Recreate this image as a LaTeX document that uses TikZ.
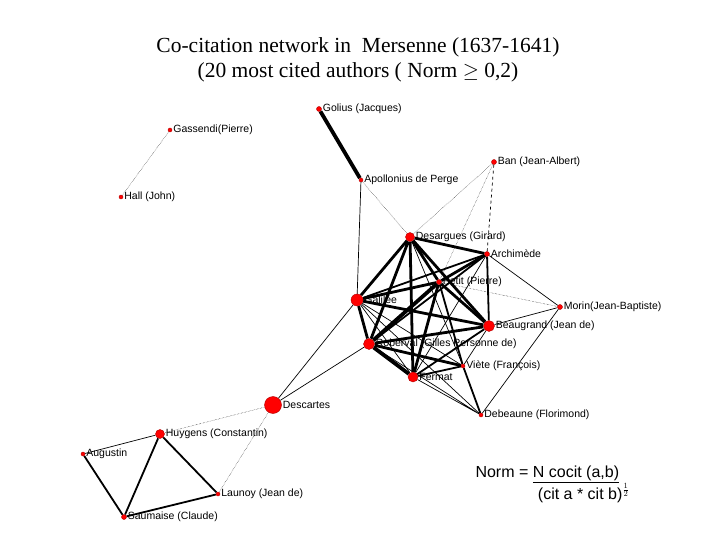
\documentclass[tikz,border=0pt]{standalone}
\usepackage{fontspec}
\setmainfont{Liberation Serif}
\newfontfamily\lab{Liberation Sans}
\usetikzlibrary{backgrounds}
\begin{document}
\begin{tikzpicture}[x=1pt,y=-1pt,
 nd/.style={circle,fill=red,draw=red!70!black,inner sep=0pt,minimum size=#1},
 nd/.default=5pt,
 lb/.style={anchor=west,font=\lab\fontsize{10.5}{12}\selectfont,inner sep=1pt},
 e0/.style={line width=0.4pt,densely dotted},
 e1/.style={line width=0.7pt},
 e2/.style={line width=1.8pt},
 e3/.style={line width=2.8pt},
 e4/.style={line width=3.8pt}]
\useasboundingbox (0,0) rectangle (720,540);
\node[align=center,font=\fontsize{21.5}{25}\selectfont] (title) at (358,60) {Co-citation network in\ \ Mersenne (1637-1641)\\(20 most cited authors ( Norm $\geq$ 0,2)};
\node[nd] (gol) at (319,109) {}; \node[lb] (golL) at (gol.east) {Golius (Jacques)};
\node[nd=4pt] (gas) at (170,130) {}; \node[lb] (gasL) at (gas.east) {Gassendi(Pierre)};
\node[nd=4pt] (hal) at (121,197) {}; \node[lb] (halL) at (hal.east) {Hall (John)};
\node[nd] (ban) at (494,162) {}; \node[lb] (banL) at (ban.east) {Ban (Jean-Albert)};
\node[nd=4pt] (apo) at (361,180) {}; \node[lb] (apoL) at (apo.east) {Apollonius de Perge};
\node[nd=9pt] (des) at (410,237) {}; \node[lb] (desL) at (des.east) {Desargues (Girard)};
\node[nd] (arc) at (487,254) {}; \node[lb] (arcL) at (arc.east) {Archimède};
\node[nd] (pet) at (439,282) {}; \node[lb] (petL) at (pet.east) {Petit (Pierre)};
\node[nd=12pt] (gal) at (357,300) {}; \node[lb] (galL) at (gal.east) {Galilée};
\node[nd] (mor) at (560,307) {}; \node[lb] (morL) at (mor.east) {Morin(Jean-Baptiste)};
\node[nd=11pt] (bea) at (489,326) {}; \node[lb] (beaL) at (bea.east) {Beaugrand (Jean de)};
\node[nd=11pt] (rob) at (369,344) {}; \node[lb] (robL) at (rob.east) {Roberval (Gilles Personne de)};
\node[nd=4pt] (vie) at (463,366) {}; \node[lb] (vieL) at (vie.east) {Viète (François)};
\node[nd=10pt] (fer) at (413,377) {}; \node[lb] (ferL) at (fer.east) {Fermat};
\node[nd=17pt] (dsc) at (273,405) {}; \node[lb] (dscL) at (dsc.east) {Descartes};
\node[nd=4pt] (deb) at (481,415) {}; \node[lb] (debL) at (deb.east) {Debeaune (Florimond)};
\node[nd=9pt] (huy) at (160,434) {}; \node[lb] (huyL) at (huy.east) {Huygens (Constantin)};
\node[nd=4pt] (aug) at (83,454) {}; \node[lb] (augL) at (aug.east) {Augustin};
\node[nd=4pt] (lau) at (218,494) {}; \node[lb] (lauL) at (lau.east) {Launoy (Jean de)};
\node[nd=5pt] (sau) at (124,517) {}; \node[lb] (sauL) at (sau.east) {Saumaise (Claude)};
\node[align=left,anchor=north west,font=\lab\fontsize{16}{19}\selectfont] (norm) at (472,462) {Norm = \underline{N cocit (a,b)}\\\hspace*{3.9em}(cit a * cit b)$^{\frac12}$};
\begin{pgfonlayer}{background}
\draw[e4] (gol)--(apo);
\draw[e1] (apo)--(gal);
\draw[e0] (apo)--(des) (ban)--(des) (ban)--(pet) (gas)--(hal);
\draw[e1,dashed] (ban)--(arc);
\draw[e3] (des)--(gal) (des)--(rob) (des)--(fer) (des)--(pet) (des)--(bea) (des)--(arc);
\draw[e1] (des)--(vie);
\draw[e3] (arc)--(pet);
\draw[e2] (arc)--(gal) (arc)--(rob) (arc)--(bea);
\draw[e1] (arc)--(mor) (arc)--(fer);
\draw[e3] (pet)--(gal) (pet)--(fer) (pet)--(bea);
\draw[e4] (pet)--(rob);
\draw[e2] (pet)--(vie);
\draw[e0] (pet)--(mor);
\draw[e3] (gal)--(bea) (gal)--(rob);
\draw[e1] (gal)--(fer) (gal)--(vie) (gal)--(deb);
\draw[e3] (rob)--(bea) (rob)--(vie);
\draw[e4] (rob)--(fer);
\draw[e2] (bea)--(fer);
\draw[e1] (bea)--(mor) (bea)--(vie) (mor)--(deb) (fer)--(deb) (rob)--(deb);
\draw[e2] (fer)--(vie) (vie)--(deb);
\draw[e1] (dsc)--(gal) (dsc)--(rob);
\draw[e0] (dsc)--(huy) (dsc)--(lau);
\draw[e1] (huy)--(aug);
\draw[e2] (huy)--(sau) (huy)--(lau) (aug)--(sau) (sau)--(lau);
\end{pgfonlayer}
\end{tikzpicture}
\end{document}
